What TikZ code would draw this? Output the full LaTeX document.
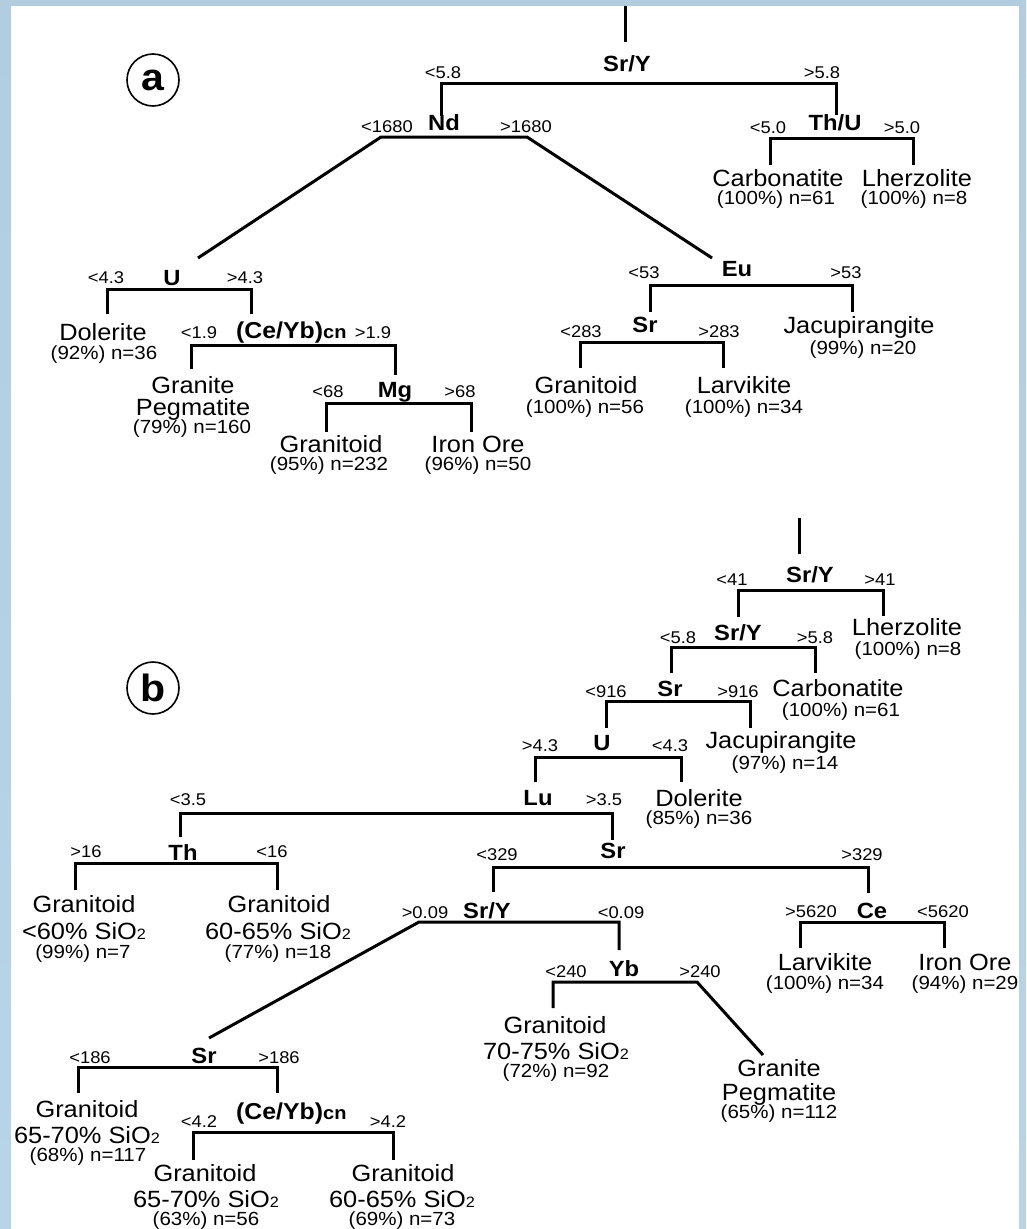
\documentclass[tikz,border=0pt]{standalone}
\usepackage{fontspec}
\setmainfont{Liberation Sans}[FakeStretch=1.08]
\definecolor{frtop}{HTML}{B3CDE0}
\definecolor{frmid}{HTML}{C6E4F8}
\definecolor{frbot}{HTML}{B8D4E8}
\newcommand\mysio{SiO{\fontsize{15}{15}\selectfont 2}}
\newcommand\mycn{{\fontsize{18.5}{18.5}\selectfont cn}}
% bracket: name, xL, xR, y, yLend, yRend
\newcommand\mybrk[6]{%
  \coordinate (#1-le) at (#2,#5);
  \coordinate (#1-l) at (#2,#4);
  \coordinate (#1-r) at (#3,#4);
  \coordinate (#1-re) at (#3,#6);
  \draw[edge] (#1-le) -- (#1-l) -- (#1-r) -- (#1-re);}
\begin{document}
\begin{tikzpicture}[x=1pt,y=-1pt,
  edge/.style={line width=3pt},
  thr/.style={inner sep=0pt,anchor=base,font=\fontsize{17}{17}\selectfont},
  spl/.style={inner sep=0pt,anchor=base,font=\fontsize{22}{22}\selectfont\bfseries},
  cey/.style={inner sep=0pt,anchor=base west,font=\fontsize{23}{23}\selectfont\bfseries},
  lf/.style={inner sep=0pt,anchor=base,font=\fontsize{23.5}{26}\selectfont},
  st/.style={inner sep=0pt,anchor=base,font=\fontsize{19}{19}\selectfont},
  tag/.style={circle,draw,line width=1.6pt,minimum size=52pt,inner sep=0pt,font=\fontsize{38}{38}\selectfont\bfseries}]
\useasboundingbox (0,0) rectangle (1026,1229);
\shade[top color=frtop,middle color=frmid,bottom color=frbot] (0,0) rectangle (1026,1229);
\fill[white] (11,6) rectangle (1019,1229);

%%%%%%%%%%%%%%%% PANEL A
\node[tag] (taga) at (153,80) {a};
\coordinate (a-top) at (625,6);
\coordinate (a-tope) at (625,42);
\draw[edge] (a-top) -- (a-tope);
\node[spl] (a-sry) at (627,71) {Sr/Y};
\node[thr] (a-sry-lt) at (443,78) {<5.8};
\node[thr] (a-sry-gt) at (822,78) {>5.8};
\mybrk{a1}{441}{836}{83}{116}{115}

\node[spl] (a-nd) at (444,130) {Nd};
\node[thr] (a-nd-lt) at (387,132) {<1680};
\node[thr] (a-nd-gt) at (526,132) {>1680};
\coordinate (a-nd-l) at (381,137);
\coordinate (a-nd-r) at (527,137);
\coordinate (a-u-in) at (198,258);
\coordinate (a-eu-in) at (712,258);
\draw[edge] (a-u-in) -- (a-nd-l) -- (a-nd-r) -- (a-eu-in);

\node[spl] (a-thu) at (835,130) {Th/U};
\node[thr] (a-thu-lt) at (768,133) {<5.0};
\node[thr] (a-thu-gt) at (902,133) {>5.0};
\mybrk{a2}{770}{913}{138}{165}{165}
\node[lf] (a-carb) at (778,186) {Carbonatite};
\node[st] (a-carb-s) at (776,204) {(100\%) n=61};
\node[lf] (a-lherz) at (917,186) {Lherzolite};
\node[st] (a-lherz-s) at (914,204) {(100\%) n=8};

\node[spl] (a-u) at (172,285) {U};
\node[thr] (a-u-lt) at (106,283) {<4.3};
\node[thr] (a-u-gt) at (245,283) {>4.3};
\mybrk{a3}{107}{251}{289}{314}{314}
\node[lf] (a-dol) at (103,340) {Dolerite};
\node[st] (a-dol-s) at (104,359) {(92\%) n=36};

\node[cey] (a-ceyb) at (236,338) {(Ce/Yb)\mycn};
\node[thr] (a-ceyb-lt) at (199,338) {<1.9};
\node[thr] (a-ceyb-gt) at (373,338) {>1.9};
\mybrk{a4}{191}{395}{345}{369}{375}
\node[lf] (a-gran1) at (193,393) {Granite};
\node[lf] (a-gran2) at (193,415) {Pegmatite};
\node[st] (a-gran-s) at (192,433) {(79\%) n=160};

\node[spl] (a-mg) at (395,397) {Mg};
\node[thr] (a-mg-lt) at (328,397) {<68};
\node[thr] (a-mg-gt) at (460,397) {>68};
\mybrk{a5}{326}{471}{403}{432}{432}
\node[lf] (a-gtd1) at (331,452) {Granitoid};
\node[st] (a-gtd1-s) at (329,470) {(95\%) n=232};
\node[lf] (a-iron) at (478,452) {Iron Ore};
\node[st] (a-iron-s) at (478,470) {(96\%) n=50};

\node[spl] (a-eu) at (737,276) {Eu};
\node[thr] (a-eu-lt) at (644,278) {<53};
\node[thr] (a-eu-gt) at (846,278) {>53};
\mybrk{a6}{650}{852}{285}{312}{312}
\node[lf] (a-jac) at (859,333) {Jacupirangite};
\node[st] (a-jac-s) at (863,354) {(99\%) n=20};

\node[spl] (a-sr) at (645,332) {Sr};
\node[thr] (a-sr-lt) at (581,337) {<283};
\node[thr] (a-sr-gt) at (719,337) {>283};
\mybrk{a7}{580}{723}{342}{368}{368}
\node[lf] (a-gtd2) at (586,393) {Granitoid};
\node[st] (a-gtd2-s) at (585,413) {(100\%) n=56};
\node[lf] (a-larv) at (744,393) {Larvikite};
\node[st] (a-larv-s) at (744,413) {(100\%) n=34};

%%%%%%%%%%%%%%%% PANEL B
\node[tag] (tagb) at (153,688) {b};
\coordinate (b-top) at (799,518);
\coordinate (b-tope) at (799,554);
\draw[edge] (b-top) -- (b-tope);
\node[spl] (b-sry1) at (810,582) {Sr/Y};
\node[thr] (b-sry1-lt) at (732,585) {<41};
\node[thr] (b-sry1-gt) at (880,585) {>41};
\mybrk{b1}{738}{883}{590}{617}{616}
\node[lf] (b-lherz) at (907,635) {Lherzolite};
\node[st] (b-lherz-s) at (908,655) {(100\%) n=8};

\node[spl] (b-sry2) at (738,640) {Sr/Y};
\node[thr] (b-sry2-lt) at (678,643) {<5.8};
\node[thr] (b-sry2-gt) at (815,643) {>5.8};
\mybrk{b2}{671}{815}{647}{673}{673}
\node[lf] (b-carb) at (838,696) {Carbonatite};
\node[st] (b-carb-s) at (841,716) {(100\%) n=61};

\node[spl] (b-sr1) at (670,696) {Sr};
\node[thr] (b-sr1-lt) at (606,697) {<916};
\node[thr] (b-sr1-gt) at (738,697) {>916};
\mybrk{b3}{606}{750}{701}{728}{728}
\node[lf] (b-jac) at (781,748) {Jacupirangite};
\node[st] (b-jac-s) at (785,769) {(97\%) n=14};

\node[spl] (b-u) at (602,750) {U};
\node[thr] (b-u-gt) at (540,751) {>4.3};
\node[thr] (b-u-lt) at (670,751) {<4.3};
\mybrk{b4}{535}{681}{757}{782}{782}
\node[lf] (b-dol) at (699,806) {Dolerite};
\node[st] (b-dol-s) at (699,824) {(85\%) n=36};

\node[spl] (b-lu) at (538,805) {Lu};
\node[thr] (b-lu-lt) at (188,805) {<3.5};
\node[thr] (b-lu-gt) at (604,805) {>3.5};
\mybrk{b5}{180}{612}{813}{837}{840}

\node[spl] (b-th) at (183,860) {Th};
\node[thr] (b-th-gt) at (86,857) {>16};
\node[thr] (b-th-lt) at (272,857) {<16};
\mybrk{b6}{75}{277}{863}{890}{890}
\node[lf] (b-g1a) at (84,912) {Granitoid};
\node[lf] (b-g1b) at (84,939) {<60\% \mysio};
\node[st] (b-g1s) at (83,958) {(99\%) n=7};
\node[lf] (b-g2a) at (279,912) {Granitoid};
\node[lf] (b-g2b) at (278,939) {60-65\% \mysio};
\node[st] (b-g2s) at (278,958) {(77\%) n=18};

\node[spl] (b-sr2) at (613,858) {Sr};
\node[thr] (b-sr2-lt) at (497,860) {<329};
\node[thr] (b-sr2-gt) at (862,860) {>329};
\mybrk{b7}{493}{868}{867}{892}{893}

\node[spl] (b-sry3) at (487,918) {Sr/Y};
\node[thr] (b-sry3-gt) at (425,918) {>0.09};
\node[thr] (b-sry3-lt) at (621,918) {<0.09};
\coordinate (b-sry3-l) at (419,922);
\coordinate (b-sry3-r) at (619,922);
\coordinate (b-sr3-in) at (209,1038);
\coordinate (b-yb-in) at (619,950);
\draw[edge] (b-sr3-in) -- (b-sry3-l) -- (b-sry3-r) -- (b-yb-in);

\node[spl] (b-ce) at (872,918) {Ce};
\node[thr] (b-ce-gt) at (811,917) {>5620};
\node[thr] (b-ce-lt) at (943,917) {<5620};
\mybrk{b8}{800}{944}{922}{948}{948}
\node[lf] (b-larv) at (825,970) {Larvikite};
\node[st] (b-larv-s) at (825,989) {(100\%) n=34};
\node[lf] (b-iron) at (965,970) {Iron Ore};
\node[st] (b-iron-s) at (965,989) {(94\%) n=29};

\node[spl] (b-yb) at (624,976) {Yb};
\node[thr] (b-yb-lt) at (566,977) {<240};
\node[thr] (b-yb-gt) at (700,977) {>240};
\coordinate (b-yb-le) at (553,1008);
\coordinate (b-yb-l) at (553,982);
\coordinate (b-yb-r) at (697,982);
\coordinate (b-gp-in) at (763,1055);
\draw[edge] (b-yb-le) -- (b-yb-l) -- (b-yb-r) -- (b-gp-in);
\node[lf] (b-g3a) at (555,1033) {Granitoid};
\node[lf] (b-g3b) at (556,1059) {70-75\% \mysio};
\node[st] (b-g3s) at (556,1077) {(72\%) n=92};
\node[lf] (b-gp1) at (779,1076) {Granite};
\node[lf] (b-gp2) at (779,1100) {Pegmatite};
\node[st] (b-gps) at (779,1118) {(65\%) n=112};

\node[spl] (b-sr3) at (204,1063) {Sr};
\node[thr] (b-sr3-lt) at (90,1063) {<186};
\node[thr] (b-sr3-gt) at (279,1063) {>186};
\mybrk{b9}{78}{277}{1067}{1093}{1093}
\node[lf] (b-g4a) at (87,1117) {Granitoid};
\node[lf] (b-g4b) at (87,1143) {65-70\% \mysio};
\node[st] (b-g4s) at (88,1161) {(68\%) n=117};

\node[cey] (b-ceyb) at (236,1119) {(Ce/Yb)\mycn};
\node[thr] (b-ceyb-lt) at (199,1127) {<4.2};
\node[thr] (b-ceyb-gt) at (388,1127) {>4.2};
\mybrk{b10}{193}{393}{1132}{1160}{1160}
\node[lf] (b-g5a) at (205,1181) {Granitoid};
\node[lf] (b-g5b) at (206,1207) {65-70\% \mysio};
\node[st] (b-g5s) at (206,1225) {(63\%) n=56};
\node[lf] (b-g6a) at (403,1181) {Granitoid};
\node[lf] (b-g6b) at (402,1207) {60-65\% \mysio};
\node[st] (b-g6s) at (402,1225) {(69\%) n=73};
\end{tikzpicture}
\end{document}
